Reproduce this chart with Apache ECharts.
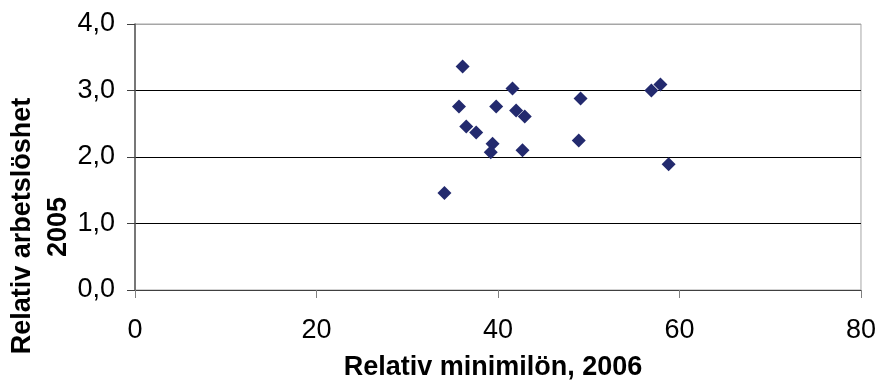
<!DOCTYPE html>
<html>
<head>
<meta charset="utf-8">
<script src="https://cdn.jsdelivr.net/npm/echarts@6/dist/echarts.min.js"></script>
<style>
html,body{margin:0;padding:0;background:#fff;}
#chart{width:879px;height:381px;}
</style>
</head>
<body>
<div id="chart"></div>
<script>
var minWage = [36.1, 35.7, 36.5, 34.1, 37.6, 39.4, 39.2, 41.6, 39.8, 42.0, 42.95, 42.7, 49.1, 48.9, 56.9, 57.9, 58.8];
var unemployment = [3.36, 2.76, 2.46, 1.46, 2.37, 2.20, 2.07, 3.03, 2.76, 2.70, 2.61, 2.10, 2.88, 2.25, 3.00, 3.09, 1.89];
var xTitle = 'Relativ minimilön, 2006';
var yTitleLine1 = 'Relativ arbetslöshet';
var yTitleLine2 = '2005';

var points = minWage.map(function (v, i) { return [v, unemployment[i]]; });
var chart = echarts.init(document.getElementById('chart'));
var FONT = '"Liberation Sans", Arial, sans-serif';
chart.setOption({
  animation: false,
  grid: {left: 135, right: 18, top: 24, bottom: 91, show: true, borderColor: '#a6a6a6', borderWidth: 1},
  xAxis: {
    type: 'value', min: 0, max: 80, interval: 20,
    axisLine: {show: true, lineStyle: {color: '#404040', width: 1}},
    axisTick: {show: true, inside: false, length: 8, lineStyle: {color: '#808080'}},
    axisLabel: {color: '#000', fontFamily: FONT, fontSize: 27, margin: 27, formatter: function (v) { return String(v); }},
    splitLine: {show: false}
  },
  yAxis: {
    type: 'value', min: 0, max: 4, interval: 1,
    axisLine: {show: true, lineStyle: {color: '#595959', width: 1.5}},
    axisTick: {show: true, inside: false, length: 8, lineStyle: {color: '#404040'}},
    axisLabel: {color: '#000', fontFamily: FONT, fontSize: 27, margin: 20, formatter: function (v) { return v.toFixed(1).replace('.', ','); }},
    splitLine: {show: true, lineStyle: {color: ['#000', '#000', '#000', '#000', '#a6a6a6'], width: 1}}
  },
  series: [{
    type: 'scatter',
    data: points,
    symbol: 'diamond',
    symbolSize: 14,
    itemStyle: {color: '#232a6e', opacity: 1}
  }],
  graphic: [
    {type: 'text', x: 493, y: 368, style: {text: xTitle, font: 'bold 27px ' + FONT, fill: '#000', align: 'center', verticalAlign: 'middle'}},
    {type: 'text', x: 23, y: 226, rotation: Math.PI / 2, style: {text: yTitleLine1, font: 'bold 27px ' + FONT, fill: '#000', align: 'center', verticalAlign: 'middle'}},
    {type: 'text', x: 59, y: 227, rotation: Math.PI / 2, style: {text: yTitleLine2, font: 'bold 27px ' + FONT, fill: '#000', align: 'center', verticalAlign: 'middle'}}
  ]
});
</script>
</body>
</html>
